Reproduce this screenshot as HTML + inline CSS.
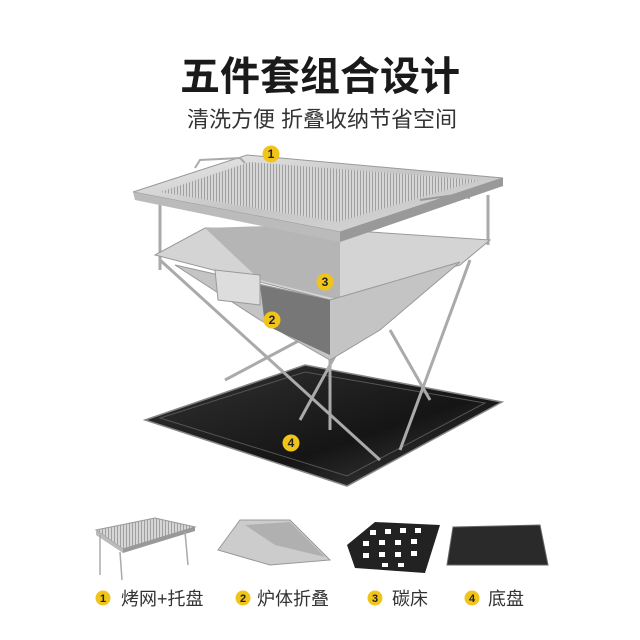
<!DOCTYPE html>
<html><head><meta charset="utf-8"><style>
body{margin:0;background:#fff;width:640px;height:640px;overflow:hidden}
svg{display:block}
text{font-family:"Liberation Sans","Noto Sans CJK SC",sans-serif}
</style></head><body>
<svg width="640" height="640" viewBox="0 0 640 640">
<defs>
<linearGradient id="st" x1="0" y1="0" x2="1" y2="1">
<stop offset="0" stop-color="#ececec"/><stop offset="0.5" stop-color="#c4c4c4"/><stop offset="1" stop-color="#dcdcdc"/></linearGradient>
<linearGradient id="bk" x1="0" y1="0" x2="1" y2="1">
<stop offset="0" stop-color="#333"/><stop offset="0.6" stop-color="#151515"/><stop offset="1" stop-color="#444"/></linearGradient>
<pattern id="grid" width="3" height="3" patternUnits="userSpaceOnUse"><rect width="3" height="3" fill="#d6d6d6"/><rect width="1" height="3" fill="#a0a0a0"/></pattern>
</defs>
<text x="320" y="90" font-size="40" font-weight="bold" text-anchor="middle" fill="#1a1a1a">五件套组合设计</text>
<text x="322" y="127" font-size="22" text-anchor="middle" fill="#333">清洗方便 折叠收纳节省空间</text>

<polygon points="145,420 305,365 502,402 347,486" fill="url(#bk)" stroke="#888" stroke-width="1.5"/>
<polygon points="160,418 305,372 485,403 347,476" fill="none" stroke="#555" stroke-width="1"/>
<g stroke="#aaa" stroke-width="3" fill="none">
<line x1="160" y1="260" x2="380" y2="460"/>
<line x1="225" y1="380" x2="460" y2="255"/>
<line x1="470" y1="260" x2="400" y2="450"/>
<line x1="300" y1="420" x2="360" y2="310"/>
<line x1="330" y1="320" x2="330" y2="430"/>
<line x1="390" y1="330" x2="430" y2="400"/>
<line x1="160" y1="200" x2="160" y2="270"/>
<line x1="488" y1="195" x2="488" y2="245"/>
</g>
<polygon points="155,255 205,228 340,230 490,240 460,265 330,300" fill="#d4d4d4" stroke="#999"/>
<polygon points="205,228 300,225 340,230 340,300 260,280" fill="#b5b5b5"/>
<polygon points="175,265 330,300 460,262 380,330 330,360 260,320" fill="#c4c4c4" stroke="#999"/>
<polygon points="260,285 330,300 330,355 265,325" fill="#777"/>
<polygon points="215,270 260,275 260,305 218,300" fill="#ddd" stroke="#999"/>
<polygon points="133,192 247,155 503,178 340,232" fill="url(#st)" stroke="#999"/>
<polygon points="160,192 250,162 480,180 338,222" fill="url(#grid)"/>
<polygon points="133,192 340,232 340,242 135,200" fill="#bbb"/>
<polygon points="340,232 503,178 503,186 340,242" fill="#999"/>
<path d="M195,168 L200,160 L240,158 L245,163" stroke="#aaa" stroke-width="2" fill="none"/>
<path d="M420,200 L455,195 L470,198" stroke="#999" stroke-width="2" fill="none"/>
<g font-size="12" font-weight="bold" text-anchor="middle" fill="#222">
<circle cx="271" cy="154" r="8.5" fill="#f0c419"/><text x="271" y="158">1</text>
<circle cx="272" cy="320" r="8.5" fill="#f0c419"/><text x="272" y="324">2</text>
<circle cx="325" cy="282" r="8.5" fill="#f0c419"/><text x="325" y="286">3</text>
<circle cx="291" cy="443" r="8.5" fill="#f0c419"/><text x="291" y="447">4</text>
</g>

<polygon points="96,530 155,518 195,527 123,549" fill="url(#grid)" stroke="#999"/>
<polygon points="96,530 123,549 123,553 96,535" fill="#bbb"/>
<polygon points="123,549 195,527 195,531 123,553" fill="#999"/>
<g stroke="#aaa" stroke-width="1.5"><line x1="100" y1="535" x2="100" y2="575"/><line x1="120" y1="552" x2="122" y2="580"/><line x1="185" y1="532" x2="188" y2="565"/></g>
<polygon points="218,550 240,520 290,520 330,560 270,565" fill="#ccc" stroke="#999"/>
<polygon points="245,525 290,522 325,557 275,545" fill="#b0b0b0"/>
<polygon points="347,545 375,522 440,525 425,573 355,568" fill="#222"/>
<g fill="#fff">
<rect x="370" y="530" width="6" height="5"/><rect x="385" y="529" width="6" height="5"/><rect x="400" y="528" width="6" height="5"/><rect x="415" y="528" width="6" height="5"/>
<rect x="363" y="541" width="6" height="5"/><rect x="379" y="540" width="6" height="5"/><rect x="395" y="540" width="6" height="5"/><rect x="411" y="539" width="6" height="5"/>
<rect x="363" y="553" width="6" height="5"/><rect x="379" y="552" width="6" height="5"/><rect x="395" y="552" width="6" height="5"/><rect x="411" y="551" width="6" height="5"/>
<rect x="382" y="563" width="6" height="4"/><rect x="398" y="563" width="6" height="4"/>
</g>
<polygon points="453,527 540,525 548,565 447,565" fill="#2a2a2a" stroke="#666"/>

<g font-size="11" font-weight="bold" text-anchor="middle" fill="#222">
<circle cx="103" cy="598" r="7.5" fill="#f0c419"/><text x="103" y="602">1</text>
<circle cx="243" cy="598" r="7.5" fill="#f0c419"/><text x="243" y="602">2</text>
<circle cx="375" cy="598" r="7.5" fill="#f0c419"/><text x="375" y="602">3</text>
<circle cx="472" cy="598" r="7.5" fill="#f0c419"/><text x="472" y="602">4</text>
</g>
<g font-size="18" fill="#333">
<text x="121" y="605">烤网+托盘</text>
<text x="257" y="605">炉体折叠</text>
<text x="392" y="605">碳床</text>
<text x="488" y="605">底盘</text>
</g>
</svg>
</body></html>
